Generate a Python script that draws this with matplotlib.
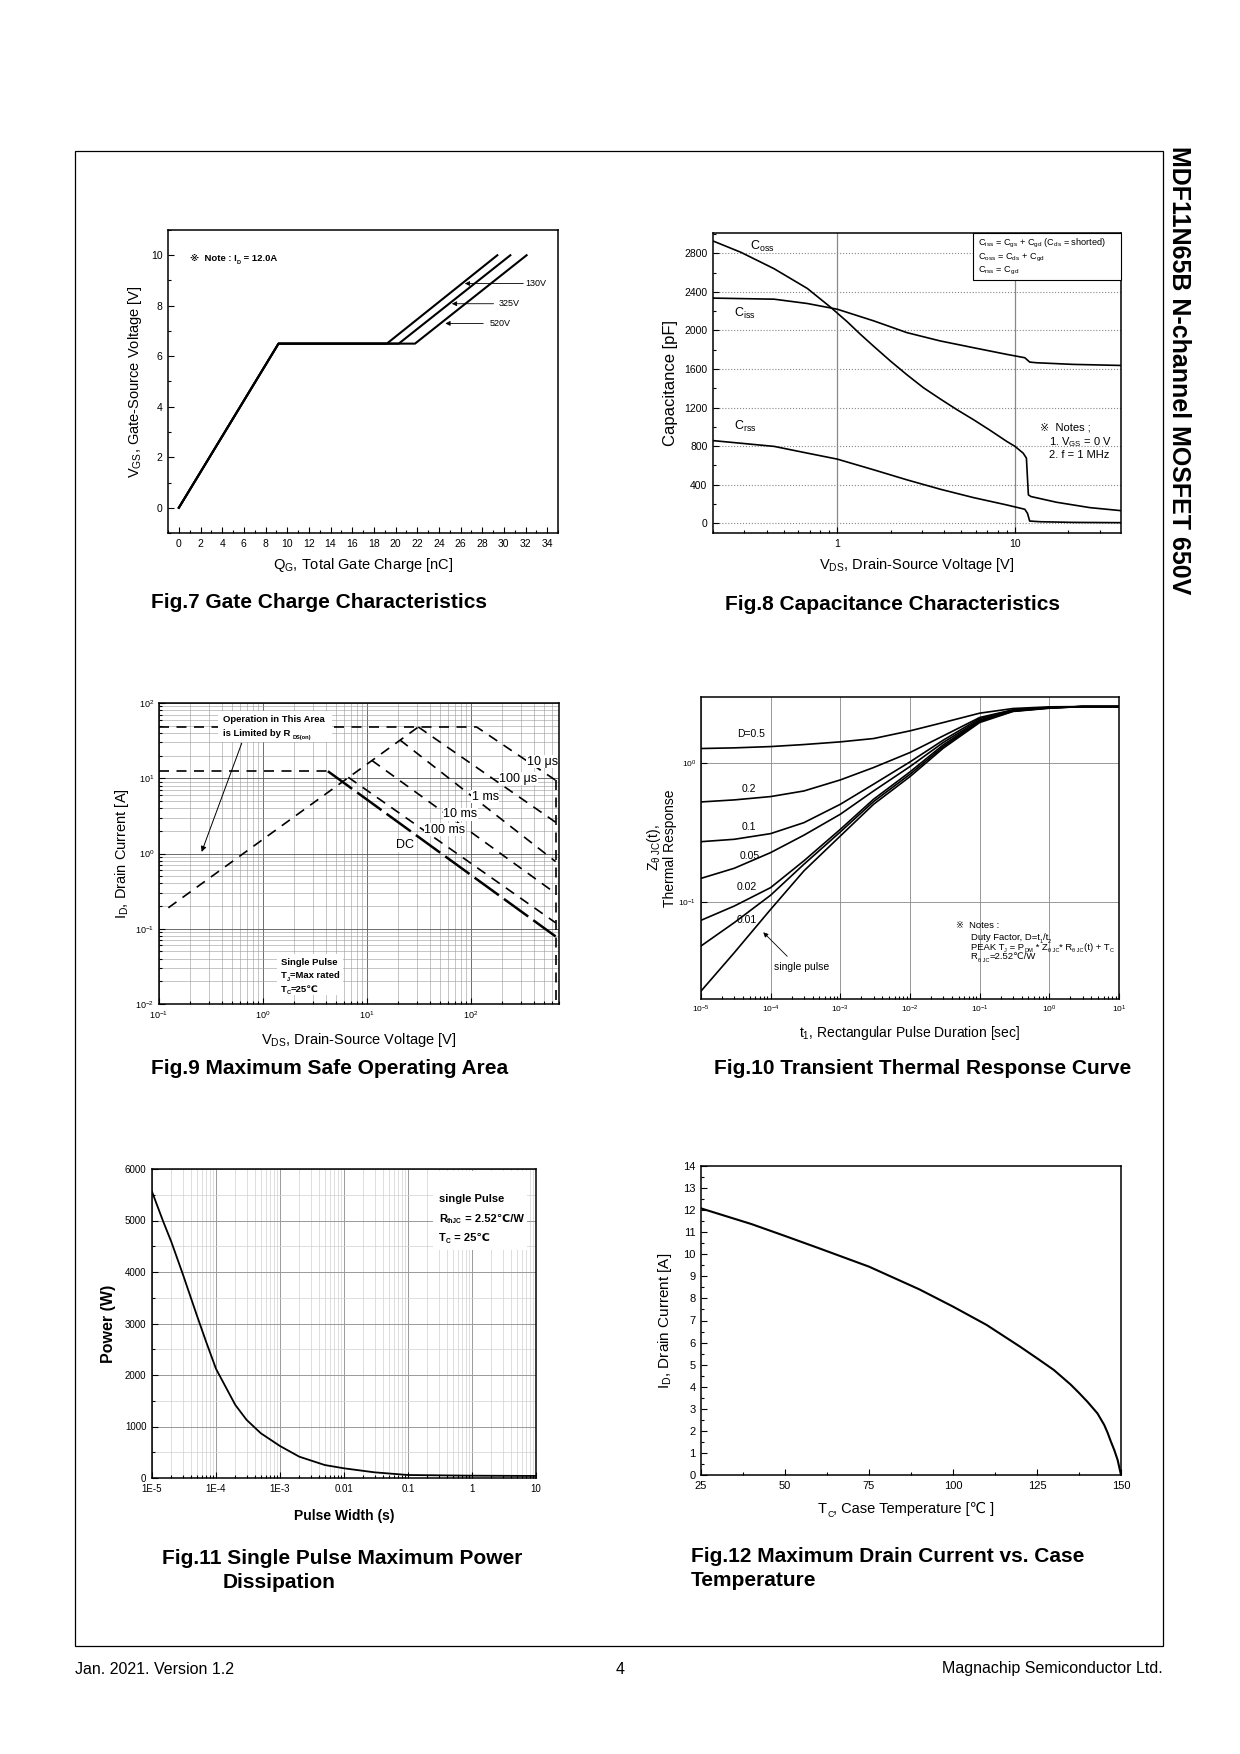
import numpy as np
import matplotlib
matplotlib.use('Agg')
import matplotlib.pyplot as plt
from matplotlib.patches import Rectangle
from matplotlib.ticker import (MultipleLocator, FixedLocator, FixedFormatter,
                               LogLocator, NullFormatter, NullLocator)

FAM = ['Liberation Sans', 'DejaVu Sans', 'Noto Sans CJK JP']
plt.rcParams.update({
    'font.family': FAM,
    'mathtext.fontset': 'custom',
    'mathtext.rm': 'Liberation Sans',
    'mathtext.it': 'Liberation Sans',
    'mathtext.sf': 'Liberation Sans',
    'mathtext.bf': 'Liberation Sans:bold',
    'mathtext.default': 'regular',
    'axes.linewidth': 1.1,
})

# ---------------- data ----------------
# Fig.7 gate charge
gate_v = [0, 6.5, 6.5, 10]
gate_q_130v = [0, 9.2, 19.2, 29.4]
gate_q_325v = [0, 9.2, 20.3, 30.6]
gate_q_520v = [0, 9.2, 21.8, 32.1]
gate_labels = ['130V', '325V', '520V']

# Fig.8 capacitance
coss_v = [0.202, 0.287, 0.441, 0.679, 0.918, 1.138, 1.35, 1.605, 2.0, 2.468, 3.06, 3.797,
          4.7, 5.84, 7.2, 8.98, 10.0, 11.12, 11.6, 11.76, 11.9, 12.3, 17.1, 26.4, 39.3]
coss_pf = [2924, 2810, 2640, 2435, 2240, 2090, 1960, 1835, 1680, 1540, 1405, 1290,
           1180, 1075, 968, 850, 798, 728, 676, 468, 295, 278, 219, 163, 132]
ciss_v = [0.202, 0.441, 0.679, 1.0, 1.605, 2.468, 3.797, 5.84, 8.98, 11.36, 12.1, 13.2, 21.2, 39.3]
ciss_pf = [2335, 2324, 2279, 2220, 2099, 1977, 1891, 1821, 1752, 1717, 1672, 1665, 1648, 1637]
crss_v = [0.202, 0.441, 0.679, 1.0, 1.605, 2.468, 3.797, 5.84, 8.98, 11.36, 11.76, 12.1, 13.8, 21.2, 39.3]
crss_pf = [857, 798, 728, 666, 555, 451, 354, 267, 191, 146, 104, 24, 17, 10, 7]

# Fig.9 safe operating area
rds_v = [0.123, 31.1]
rds_a = [0.19, 48]
soa_10us_v = [0.1, 113, 650]
soa_10us_a = [48, 48, 9.4]
soa_100us_v = [31.1, 650]
soa_100us_a = [48, 2.6]
soa_1ms_v = [20.7, 650]
soa_1ms_a = [32.3, 0.78]
soa_10ms_v = [11.1, 650]
soa_10ms_a = [17.3, 0.295]
soa_100ms_v = [6.6, 650]
soa_100ms_a = [10.3, 0.12]
soa_dcflat_v = [0.1, 4.2]
soa_dcflat_a = [12.4, 12.4]
soa_dc_v = [4.2, 650]
soa_dc_a = [12.4, 0.079]
bvdss_v = [650, 650]
bvdss_a = [9.4, 0.01]

# Fig.10 transient thermal response
thermal_t = [1e-5, 3e-5, 1e-4, 3e-4, 1e-3, 3e-3, 1e-2, 3e-2, 1e-1, 3e-1, 1, 3, 10]
zth_d05 = [1.276, 1.29, 1.318, 1.363, 1.425, 1.506, 1.711, 1.964, 2.294, 2.478, 2.548, 2.56, 2.56]
zth_d02 = [0.526, 0.544, 0.575, 0.631, 0.758, 0.931, 1.194, 1.574, 2.134, 2.425, 2.519, 2.56, 2.56]
zth_d01 = [0.272, 0.283, 0.311, 0.373, 0.506, 0.706, 1.022, 1.466, 2.10, 2.41, 2.52, 2.56, 2.56]
zth_d005 = [0.148, 0.175, 0.227, 0.303, 0.429, 0.631, 0.946, 1.41, 2.05, 2.40, 2.51, 2.56, 2.56]
zth_d002 = [0.0738, 0.0935, 0.127, 0.198, 0.334, 0.550, 0.866, 1.356, 2.02, 2.38, 2.51, 2.56, 2.56]
zth_d001 = [0.0482, 0.0710, 0.112, 0.187, 0.320, 0.529, 0.833, 1.318, 1.995, 2.37, 2.50, 2.56, 2.56]
zth_single = [0.0228, 0.0431, 0.0885, 0.1675, 0.299, 0.506, 0.801, 1.283, 1.964, 2.36, 2.49, 2.56, 2.56]

# Fig.11 single pulse power
pulse_t = [1e-5, 1.5e-5, 2e-5, 3e-5, 5e-5, 7e-5, 1e-4, 2e-4, 3e-4, 5e-4, 1e-3, 2e-3,
           5e-3, 1e-2, 3e-2, 1e-1, 1, 10]
pulse_w = [5560, 4977, 4589, 3974, 3165, 2647, 2120, 1420, 1130, 870, 621, 414,
           252, 188, 110, 58, 45, 40]
pulse_ticks = [1e-5, 1e-4, 1e-3, 1e-2, 1e-1, 1, 10]
pulse_ticklabels = ['1E-5', '1E-4', '1E-3', '0.01', '0.1', '1', '10']

# Fig.12 drain current vs case temperature
case_t = [25, 40, 50, 60, 75, 90, 100, 110, 120, 125, 130, 135, 137.5, 140, 143, 145,
          146, 147, 148, 149, 150]
drain_a = [12.08, 11.37, 10.83, 10.28, 9.44, 8.41, 7.63, 6.80, 5.81, 5.29, 4.76, 4.10,
           3.72, 3.32, 2.79, 2.27, 1.92, 1.51, 1.13, 0.68, 0.0]

# ---------------- helpers ----------------
W, H = 1240, 1754
fig = plt.figure(figsize=(W / 100, H / 100), dpi=100, facecolor='white')


def box_rect(b):
    l, t, r, bt = b
    return [l / W, 1 - bt / H, (r - l) / W, (bt - t) / H]


def fp(x, y):
    return (x / W, 1 - y / H)


def txt(ax, x, y, s, fs, ha='left', zorder=7, **kw):
    return ax.text(*fp(x, y + 0.5 * fs), s, transform=fig.transFigure, fontsize=fs,
                   ha=ha, va='baseline', zorder=zorder, **kw)


def rich(ax, x, y, parts, fs, weight='normal', zorder=7):
    t0 = txt(ax, x, y, parts[0][0], fs, fontweight=weight, zorder=zorder)
    prev = t0
    for s, kind in parts[1:]:
        if kind == 'sub':
            size, dy = fs * 0.6, -fs * 0.16
        elif kind == 'sup':
            size, dy = fs * 0.6, fs * 0.45
        else:
            size, dy = fs, 0
        prev = ax.annotate(s, xy=(1, 0), xycoords=(prev, t0), xytext=(0, dy),
                           textcoords='offset points', fontsize=size, fontweight=weight,
                           ha='left', va='bottom', zorder=zorder, annotation_clip=False)
    return t0


def whitebox(ax, l, t, r, b, ec='none', lw=0.8, zorder=4):
    ax.add_patch(Rectangle(fp(l, b), (r - l) / W, (b - t) / H, transform=fig.transFigure,
                           fc='white', ec=ec, lw=lw, zorder=zorder, clip_on=False))


def labels(ax, box, xl, xy_px, yl, yx_px, fs_x, fs_y, weight='normal'):
    l, t, r, b = box
    if xl is not None:
        ax.set_xlabel(xl, fontsize=fs_x, va='center', fontweight=weight)
        ax.xaxis.set_label_coords(0.5, (b - xy_px) / (b - t))
    if yl is not None:
        ax.set_ylabel(yl, fontsize=fs_y, va='center', fontweight=weight)
        ax.yaxis.set_label_coords((yx_px - l) / (r - l), 0.5)


def ticks(ax, fs, pad=3.5, ml=4, mn=2.2):
    ax.tick_params(which='both', direction='in', labelsize=fs, pad=pad, width=0.8)
    ax.tick_params(which='major', length=ml)
    ax.tick_params(which='minor', length=mn)


# ---------------- page ----------------
page = fig.add_axes([0, 0, 1, 1])
page.set_xlim(0, W)
page.set_ylim(H, 0)
page.axis('off')
page.add_patch(Rectangle((75, 151), 1088, 1495, fill=False, ec='black', lw=0.9))
page.text(1179, 146, 'MDF11N65B N-channel MOSFET 650V', rotation=-90, ha='center', va='top',
          fontsize=18, fontweight='bold')
page.text(75, 1669, 'Jan. 2021. Version 1.2', fontsize=11.5, va='center', ha='left')
page.text(620, 1669, '4', fontsize=11.5, va='center', ha='center')
page.text(1163, 1669, 'Magnachip Semiconductor Ltd.', fontsize=11.5, va='center', ha='right')
cap = dict(fontsize=15, fontweight='bold', va='center', ha='left')
page.text(151, 603, 'Fig.7 Gate Charge Characteristics', **cap)
page.text(725, 605, 'Fig.8 Capacitance Characteristics', **cap)
page.text(151, 1069, 'Fig.9 Maximum Safe Operating Area', **cap)
page.text(714, 1069, 'Fig.10 Transient Thermal Response Curve', **cap)
page.text(162, 1558, 'Fig.11 Single Pulse Maximum Power', **cap)
page.text(223, 1583, 'Dissipation', **cap)
page.text(691, 1556, 'Fig.12 Maximum Drain Current vs. Case', **cap)
page.text(691, 1581, 'Temperature', **cap)

# ---------------- Fig.7 ----------------
B7 = (168, 230, 558, 533)
ax7 = fig.add_axes(box_rect(B7))
for q in (gate_q_130v, gate_q_325v, gate_q_520v):
    ax7.plot(q, gate_v, color='black', lw=1.5)
ax7.set_xlim(-1, 35)
ax7.set_ylim(-1, 11)
ax7.xaxis.set_major_locator(MultipleLocator(2))
ax7.xaxis.set_minor_locator(MultipleLocator(1))
ax7.yaxis.set_major_locator(MultipleLocator(2))
ax7.yaxis.set_minor_locator(MultipleLocator(1))
ticks(ax7, 7.5, pad=4)
labels(ax7, B7, r'Q$_G$, Total Gate Charge [nC]', 565, r'V$_{GS}$, Gate-Source Voltage [V]', 135, 10.5, 10.5)
arrow_tip_q = [26.4, 25.2, 24.6]
arrow_tip_v = [8.88, 8.08, 7.30]
arrow_tail_q = [31.8, 29.05, 28.1]
label_q = [32.0, 29.5, 28.7]
for lab, tq, tv, aq, lq in zip(gate_labels, arrow_tip_q, arrow_tip_v, arrow_tail_q, label_q):
    ax7.annotate('', xy=(tq, tv), xytext=(aq, tv),
                 arrowprops=dict(arrowstyle='-|>', lw=0.6, color='black', mutation_scale=7,
                                 shrinkA=0, shrinkB=0))
    ax7.text(lq, tv, lab, fontsize=6.5, va='center', ha='left')
rich(ax7, 190, 257.7, [('\u203b  Note : I', 'n'), ('D', 'sub'), (' = 12.0A', 'n')], 6.8, weight='bold')

# ---------------- Fig.8 ----------------
B8 = (713, 233, 1121, 533)
ax8 = fig.add_axes(box_rect(B8))
ax8.set_xscale('log')
ax8.plot(coss_v, coss_pf, color='black', lw=1.2)
ax8.plot(ciss_v, ciss_pf, color='black', lw=1.2)
ax8.plot(crss_v, crss_pf, color='black', lw=1.2)
ax8.set_xlim(0.2, 39.5)
ax8.set_ylim(-100, 3010)
ax8.xaxis.set_major_locator(FixedLocator([1, 10]))
ax8.xaxis.set_major_formatter(FixedFormatter(['1', '10']))
ax8.xaxis.set_minor_locator(LogLocator(base=10, subs=np.arange(2, 10)))
ax8.xaxis.set_minor_formatter(NullFormatter())
ax8.yaxis.set_major_locator(MultipleLocator(400))
ax8.yaxis.set_minor_locator(MultipleLocator(200))
ax8.yaxis.grid(True, which='major', ls=':', color='#888', lw=0.8)
ax8.xaxis.grid(True, which='major', ls='-', color='#888', lw=0.9)
ticks(ax8, 7.5, pad=4)
labels(ax8, B8, r'V$_{DS}$, Drain-Source Voltage [V]', 565, 'Capacitance [pF]', 670, 10.5, 12)
txt(ax8, 750, 245, r'C$_{oss}$', 9)
txt(ax8, 734, 312, r'C$_{iss}$', 9)
txt(ax8, 734, 425, r'C$_{rss}$', 9)
whitebox(ax8, 973, 233, 1121, 280, ec='black', lw=0.8)
txt(ax8, 978, 242.5, r'C$_{iss}$ = C$_{gs}$ + C$_{gd}$ (C$_{ds}$ = shorted)', 6.6)
txt(ax8, 978, 256, r'C$_{oss}$ = C$_{ds}$ + C$_{gd}$', 6.6)
txt(ax8, 978, 269.5, r'C$_{rss}$ = C$_{gd}$', 6.6)
rich(ax8, 1040, 427, [('\u203b  Notes ;', 'n')], 8)
txt(ax8, 1049, 441, r'1. V$_{GS}$ = 0 V', 8)
txt(ax8, 1049, 454, '2. f = 1 MHz', 8)

# ---------------- Fig.9 ----------------
B9 = (159, 703, 559, 1004)
ax9 = fig.add_axes(box_rect(B9))
ax9.set_xscale('log')
ax9.set_yscale('log')
ax9.set_xlim(0.1, 700)
ax9.set_ylim(0.01, 100)
ax9.grid(True, which='major', color='#555', lw=0.6)
ax9.grid(True, which='minor', color='#999', lw=0.4)
dash = (0, (6, 4.5))
for v, a in [(rds_v, rds_a), (soa_10us_v, soa_10us_a), (soa_100us_v, soa_100us_a),
             (soa_1ms_v, soa_1ms_a), (soa_10ms_v, soa_10ms_a), (soa_100ms_v, soa_100ms_a),
             (soa_dcflat_v, soa_dcflat_a), (bvdss_v, bvdss_a)]:
    ax9.plot(v, a, color='black', lw=1.2, ls=dash)
ax9.plot(soa_dc_v, soa_dc_a, color='black', lw=1.8, ls=(0, (12, 2.5)))
ticks(ax9, 6.5, pad=3.5)
labels(ax9, B9, r'V$_{DS}$, Drain-Source Voltage [V]', 1040, r'I$_D$, Drain Current [A]', 122, 10.5, 10.5)
soa_names = ['10 \u03bcs', '100 \u03bcs', '1 ms', '10 ms', '100 ms', 'DC']
soa_lab_x = [526.7, 499.3, 471.7, 443.3, 424.3, 396.0]
soa_lab_y = [760.0, 777.3, 795.0, 812.7, 828.3, 844.0]
for s, x, y in zip(soa_names, soa_lab_x, soa_lab_y):
    txt(ax9, x, y, s, 9, bbox=dict(fc='white', ec='none', pad=0.3))
whitebox(ax9, 218, 711, 332, 742, zorder=5)
rich(ax9, 223, 719, [('Operation in This Area', 'n')], 6.8, weight='bold')
rich(ax9, 223, 733, [('is Limited by R ', 'n'), ('DS(on)', 'sub')], 6.8, weight='bold')
ax9.annotate('', xy=(0.257, 1.05), xytext=(0.624, 29.2),
             arrowprops=dict(arrowstyle='-|>', lw=0.7, color='black', mutation_scale=8,
                             shrinkA=0, shrinkB=0), zorder=6)
whitebox(ax9, 277, 954, 343, 995, zorder=5)
rich(ax9, 281, 961.7, [('Single Pulse', 'n')], 6.8, weight='bold')
rich(ax9, 281, 975, [('T', 'n'), ('J', 'sub'), ('=Max rated', 'n')], 6.8, weight='bold')
rich(ax9, 281, 988.3, [('T', 'n'), ('C', 'sub'), ('=25\u2103', 'n')], 6.8, weight='bold')

# ---------------- Fig.10 ----------------
B10 = (701, 697, 1119, 999)
ax10 = fig.add_axes(box_rect(B10))
ax10.set_xscale('log')
ax10.set_yscale('log')
for z in (zth_d05, zth_d02, zth_d01, zth_d005, zth_d002, zth_d001, zth_single):
    ax10.plot(thermal_t, z, color='black', lw=1.2)
ax10.set_xlim(1e-5, 10)
ax10.set_ylim(0.02, 3.0)
ax10.xaxis.set_major_locator(LogLocator(base=10, numticks=12))
ax10.xaxis.set_minor_locator(LogLocator(base=10, subs=np.arange(2, 10), numticks=12))
ax10.xaxis.set_minor_formatter(NullFormatter())
ax10.yaxis.set_minor_locator(NullLocator())
ax10.grid(True, which='major', color='#888', lw=0.6)
ticks(ax10, 6, pad=3.5)
labels(ax10, B10, r't$_1$, Rectangular Pulse Duration [sec]', 1033,
       'Z$_{\\theta\\ JC}$(t),\nThermal Response', 661, 10, 10)
ax10.yaxis.label.set_linespacing(0.95)
d_names = ['D=0.5', '0.2', '0.1', '0.05', '0.02', '0.01']
d_lab_x = [736.7, 741.7, 741.7, 739.3, 736.7, 736.7]
d_lab_y = [733.3, 788.0, 826.0, 855.7, 886.7, 919.3]
for s, x, y in zip(d_names, d_lab_x, d_lab_y):
    txt(ax10, x, y, s, 7.5)
txt(ax10, 774.3, 966.7, 'single pulse', 7.5)
ax10.annotate('', xy=(7.83e-5, 0.0605), xytext=(1.73e-4, 0.0406),
              arrowprops=dict(arrowstyle='-|>', lw=0.6, color='black', mutation_scale=7,
                              shrinkA=0, shrinkB=0))
rich(ax10, 956, 925, [('\u203b  Notes :', 'n')], 6.8)
rich(ax10, 970.7, 936.7, [('Duty Factor, D=t', 'n'), ('1', 'sub'), ('/t', 'n'), ('2', 'sub')], 6.8)
rich(ax10, 970.7, 946.3, [('PEAK T', 'n'), ('J', 'sub'), (' = P', 'n'), ('DM', 'sub'), (' * Z', 'n'),
                          ('\u03b8 JC', 'sub'), ('* R', 'n'), ('\u03b8 JC', 'sub'), ('(t) + T', 'n'),
                          ('C', 'sub')], 6.8)
rich(ax10, 970.7, 955.7, [('R', 'n'), ('\u03b8 JC', 'sub'), ('=2.52\u2103/W', 'n')], 6.8)

# ---------------- Fig.11 ----------------
B11 = (152, 1169, 536, 1478)
ax11 = fig.add_axes(box_rect(B11))
ax11.set_xscale('log')
ax11.plot(pulse_t, pulse_w, color='black', lw=1.3)
ax11.set_xlim(1e-5, 10)
ax11.set_ylim(0, 6000)
ax11.xaxis.set_major_locator(FixedLocator(pulse_ticks))
ax11.xaxis.set_major_formatter(FixedFormatter(pulse_ticklabels))
ax11.xaxis.set_minor_locator(LogLocator(base=10, subs=np.arange(2, 10), numticks=12))
ax11.xaxis.set_minor_formatter(NullFormatter())
ax11.yaxis.set_major_locator(MultipleLocator(1000))
ax11.yaxis.set_minor_locator(MultipleLocator(500))
ax11.grid(True, which='major', color='#999', lw=0.7)
ax11.grid(True, which='minor', color='#d0d0d0', lw=0.5)
ticks(ax11, 7, pad=4)
labels(ax11, B11, 'Pulse Width (s)', 1515.7, 'Power (W)', 108.3, 10, 11.5, weight='bold')
whitebox(ax11, 433, 1171, 527, 1250, zorder=5)
rich(ax11, 439.3, 1197.7, [('single Pulse', 'n')], 8, weight='bold')
rich(ax11, 439.3, 1217.7, [('R', 'n'), ('thJC', 'sub'), (' = 2.52\u2103/W', 'n')], 8, weight='bold')
rich(ax11, 439.3, 1237.3, [('T', 'n'), ('C', 'sub'), (' = 25\u2103', 'n')], 8, weight='bold')

# ---------------- Fig.12 ----------------
B12 = (701, 1166, 1121, 1475)
ax12 = fig.add_axes(box_rect(B12))
ax12.plot(case_t, drain_a, color='black', lw=1.5)
ax12.set_xlim(25, 150)
ax12.set_ylim(0, 14)
ax12.xaxis.set_major_locator(MultipleLocator(25))
ax12.xaxis.set_minor_locator(MultipleLocator(12.5))
ax12.yaxis.set_major_locator(MultipleLocator(1))
ax12.yaxis.set_minor_locator(MultipleLocator(0.5))
ticks(ax12, 8, pad=4)
labels(ax12, B12, None, None, r'I$_D$, Drain Current [A]', 665, 10.5, 11)
rich(ax12, 818, 1508, [('T', 'n'), ('C', 'sub'), (', Case Temperature [\u2103 ]', 'n')], 10.5)

fig.savefig('out.png', dpi=100, facecolor='white')
